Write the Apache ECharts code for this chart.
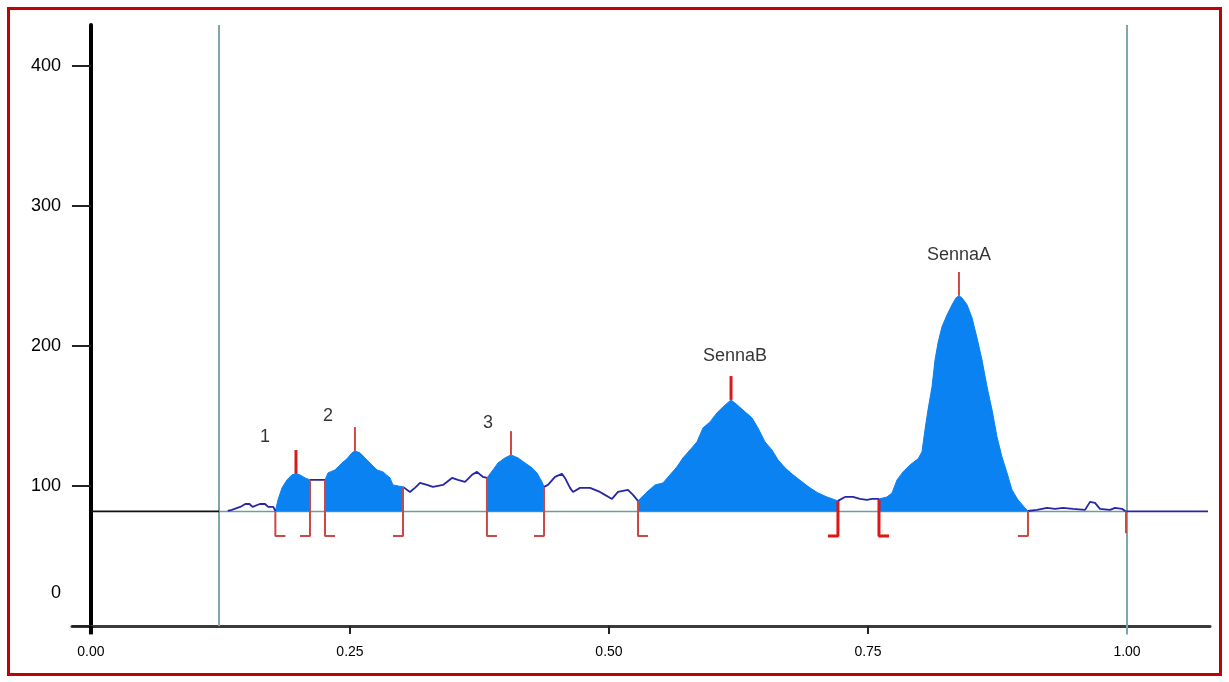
<!DOCTYPE html>
<html><head><meta charset="utf-8">
<script src="https://cdn.jsdelivr.net/npm/echarts@6/dist/echarts.min.js"></script>
<style>
html,body{margin:0;padding:0;background:#fff;}
#chart{position:absolute;left:0;top:0;width:1229px;height:682px;}
#frame{position:absolute;left:7px;top:7px;width:1209px;height:663px;border:3px solid #c40000;pointer-events:none;}
</style></head><body>
<div id="chart"></div><div id="frame"></div>
<script>
// ---- data ----
const traceX = [0.132,0.136,0.144,0.149,0.153,0.156,0.163,0.168,0.171,0.176,
  0.178,0.1805,0.1844,0.1892,0.194,0.1979,0.2017,0.2066,0.2114,
  0.2191,0.2259,0.2288,0.2355,0.2423,0.2471,0.2519,0.2548,0.2597,0.2645,0.2693,0.2761,0.2819,0.2886,0.2915,0.3012,
  0.3079,0.3127,0.3176,0.3243,0.3301,0.3398,0.3485,0.3542,0.361,0.3678,0.3726,0.3784,
  0.3822,0.388,0.3929,0.3996,0.4054,0.4122,0.4189,0.4257,0.4305,0.4353,0.4373,
  0.4411,0.4479,0.4546,0.4575,0.4624,0.4653,0.472,0.4817,0.4913,0.4961,0.5029,0.5087,0.5183,0.5232,
  0.528,0.5367,0.5444,0.5521,0.5589,0.5656,0.5714,0.5782,0.5849,0.5907,0.5975,0.6042,0.61,0.6178,
  0.6236,0.6313,0.638,0.6438,0.6506,0.6573,0.6631,0.6699,0.6776,0.6863,0.694,0.7017,0.7104,0.721,
  0.7278,0.7355,0.7423,0.749,0.7539,
  0.7606,0.7683,0.7732,0.778,0.7838,0.7905,0.7983,0.8021,0.805,0.8079,0.8118,0.8147,0.8176,0.8214,0.8263,0.8311,0.835,0.8378,
  0.8407,0.8456,0.8504,0.8552,0.86,0.8649,0.8697,0.8745,0.8793,0.8842,0.889,0.8948,0.9015,0.9044,
  0.9131,0.9228,0.9305,0.9382,0.9479,0.9595,0.9643,0.9691,0.9739,0.9836,0.9884,0.9952,0.999,1.0782];
const traceY = [82.1,82.9,85,87.1,87.1,85,87.1,87.1,85,85,
  82.1,90,98.6,104.3,107.9,108.6,107.9,105.7,104.3,
  104.3,104.3,109.3,111.4,116.4,119.3,123.6,125,123.6,120,116.4,111.4,110,105.7,100.7,99.3,
  95.7,98.6,102.1,100.7,99.3,100.7,105.7,104.3,102.9,107.9,110,106.4,
  105.7,111.4,116.4,120,122.1,120,116.4,112.9,109.3,102.9,99.3,
  100.7,106.4,108.6,105.7,98.6,95.7,98.6,98.6,95.7,93.6,90.7,95.7,97.1,93.6,
  89.3,95.7,100.7,102.1,107.9,113.6,120,125.7,131.4,141.4,145.7,152.1,156.4,161.4,
  157.9,152.9,148.6,141.4,131.4,125.7,118.6,112.9,107.9,102.9,98.6,95,92.1,89.3,
  92.1,92.1,90.7,90,90.7,
  90.7,92.1,95,104.3,110,115,119.3,124.3,140,154.3,170.7,190,202.1,213.6,222.1,229.3,234.3,235.7,
  234.3,229.3,220,205.7,190,170.7,154.3,135,120.7,109.3,97.1,90,84.3,82.1,
  82.9,84.3,83.6,84.3,83.6,82.9,88.6,87.9,83.6,82.9,84.3,83.6,81.8,81.8];
const baselineY = 81.8;
const peakNames  = ['1','2','3','SennaB','SennaA'];
const peakStart  = [0.178, 0.2259, 0.3822, 0.528, 0.7606];
const peakEnd    = [0.2114, 0.3012, 0.4373, 0.721, 0.9044];
const apexX      = [0.1979, 0.2548, 0.4054, 0.6178, 0.8378];
const apexY      = [108.6, 125, 122.1, 161.4, 235.7];
const labelX     = [0.1679, 0.2288, 0.3832, 0.6216, 0.8378];
const labelY     = [135, 150, 145, 192.9, 265];
const endMarkX   = [0.999];
const windowX    = [0.1236, 1.0];
const xTickValues = [0, 0.25, 0.5, 0.75, 1.0];
const yTickValues = [0, 100, 200, 300, 400];

// ---- style constants ----
const markBottom = 64.3, footLen = 0.0097, apexLen = 17;
const thickStarts = [0.7606], thickEnds = [0.721], thickApex = [0, 3];
const windowBottom = [0, -6];
const FONT = 'Liberation Sans, Arial, sans-serif';

function yAt(x){ return traceY[traceX.indexOf(x)]; }
function segment(a,b){ const d=[]; traceX.forEach((x,i)=>{ if(x>=a-1e-9 && x<=b+1e-9) d.push([x,traceY[i]]); }); return d; }
function lineS(data, color, width, z){
  return {type:'line', data, symbol:'none', silent:true, animation:false, z:z||3,
    lineStyle:{color, width}, clip:false};
}

const series = [];
// window lines
windowX.forEach((x,i) => series.push(lineS([[x,windowBottom[i]],[x,429]], '#7ea6a6', 2, 1)));
// y axis extension below x axis
series.push(lineS([[0,-6],[0,0]], '#000', 4, 8));
// baseline
series.push(lineS([[0,baselineY],[windowX[0],baselineY]], '#111', 1.6, 2));
series.push(lineS([[windowX[0],baselineY],[windowX[1],baselineY]], '#6f9d9d', 1.5, 2));
// peak fills
peakStart.forEach((s,i) => {
  series.push({type:'line', data:segment(s,peakEnd[i]), symbol:'none', silent:true, animation:false, z:4,
    lineStyle:{color:'#0b82f2', width:1}, areaStyle:{color:'#0b82f2', opacity:1, origin:baselineY}});
});
// trace between peaks
const bounds = [traceX[0]].concat(...peakStart.map((s,i)=>[s, peakEnd[i]]), [traceX[traceX.length-1]]);
for (let i=0;i<bounds.length;i+=2){
  series.push(lineS(segment(bounds[i],bounds[i+1]), '#2626a6', 1.8, 5));
}
// boundary markers
peakStart.forEach(s => {
  const thick = thickStarts.includes(s);
  series.push(lineS([[s,yAt(s)],[s,markBottom],[s+footLen,markBottom]], thick?'#e01515':'#c94a44', thick?3:2, 6));
});
peakEnd.forEach(e => {
  const thick = thickEnds.includes(e);
  series.push(lineS([[e,yAt(e)],[e,markBottom],[e-footLen,markBottom]], thick?'#e01515':'#c94a44', thick?3:2, 6));
});
endMarkX.forEach(x => series.push(lineS([[x,yAt(x)],[x,markBottom+2]], '#c94a44', 2, 6)));
// apex markers
apexX.forEach((x,i) => {
  const thick = thickApex.includes(i);
  series.push(lineS([[x,apexY[i]],[x,apexY[i]+apexLen]], thick?'#d41c1c':'#cf4a44', thick?3:2, 6));
});
// peak labels
series.push({type:'scatter', silent:true, animation:false, symbolSize:1, itemStyle:{color:'rgba(0,0,0,0)'}, z:7,
  data: peakNames.map((n,i)=>({name:n, value:[labelX[i], labelY[i]]})),
  label:{show:true, position:'inside', formatter:p=>p.name, color:'#000', fontSize:18, fontFamily:FONT}});

const chart = echarts.init(document.getElementById('chart'), null, {renderer:'canvas'});
chart.setOption({
  backgroundColor:'#fff',
  animation:false,
  grid:{left:72, right:19, top:25, bottom:56, containLabel:false},
  xAxis:{type:'value', min:-0.0183, max:1.0801,
    axisLine:{onZero:false, lineStyle:{color:'#3a3a3a', width:3}},
    axisTick:{customValues:xTickValues, length:8, lineStyle:{color:'#222', width:2}},
    axisLabel:{customValues:xTickValues, formatter:v=>v.toFixed(2), margin:19, color:'#000', fontSize:14, fontFamily:FONT},
    splitLine:{show:false}},
  yAxis:{type:'value', min:0, max:429,
    axisLine:{show:true, onZero:true, lineStyle:{color:'#000', width:4}},
    axisTick:{show:true, customValues:yTickValues, length:19, lineStyle:{color:'#222', width:2}},
    axisLabel:{customValues:yTickValues, margin:11, color:'#000', fontSize:18, fontFamily:FONT,
      formatter:v=> v===0 ? '{z|0}' : String(v),
      rich:{z:{padding:[0,0,66,0], fontSize:18, color:'#000', fontFamily:FONT}}},
    splitLine:{show:false}},
  series
});
</script>
</body></html>
